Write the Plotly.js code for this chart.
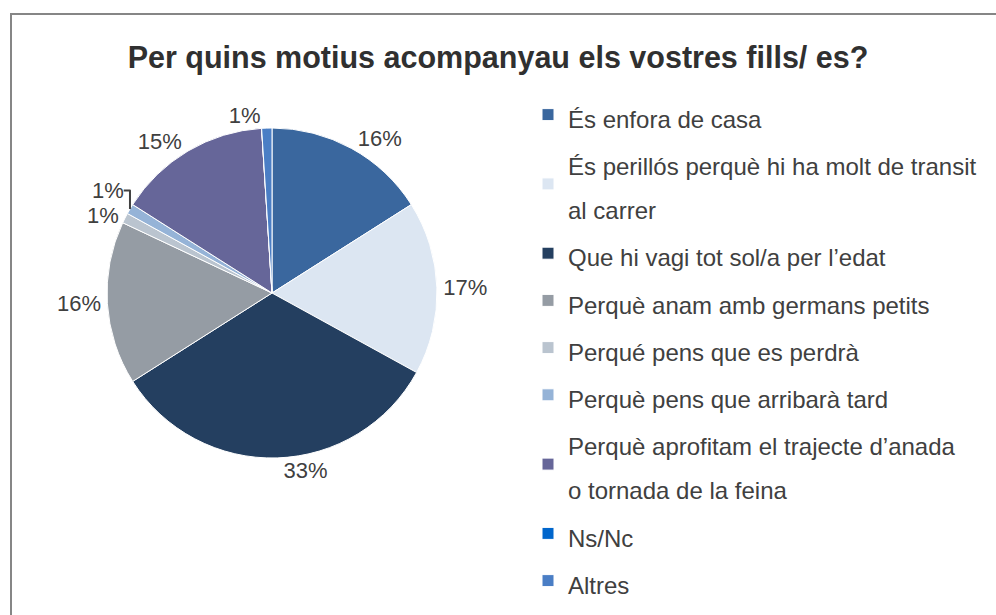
<!DOCTYPE html>
<html>
<head>
<meta charset="utf-8">
<script src="https://cdn.plot.ly/plotly-3.0.1.min.js"></script>
<style>html,body{margin:0;padding:0;background:#fff;}#chart{width:996px;height:615px;}</style>
</head>
<body>
<div id="chart"></div>
<script>
const categories = [
  "És enfora de casa",
  "És perillós perquè hi ha molt de transit<br>al carrer",
  "Que hi vagi tot sol/a per l’edat",
  "Perquè anam amb germans petits",
  "Perqué pens que es perdrà",
  "Perquè pens que arribarà tard",
  "Perquè aprofitam el trajecte d’anada<br>o tornada de la feina",
  "Ns/Nc",
  "Altres"
];
const values = [16, 17, 33, 16, 1, 1, 15, 0, 1];
const colors = ["#3A679E", "#DCE6F2", "#243F60", "#959CA4", "#BAC4CF", "#95B3D7", "#666699", "#0066CC", "#4A7EC5"];
const titleText = "Per quins motius acompanyau els vostres fills/ es?";

const FONT = "'Liberation Sans', Arial, sans-serif";
const legendLabels = categories.map(c => c.split("<br>").map(s => '<span style="font-size:24px">' + s + '</span>').join("<br>"));
const textTemplates = values.map(v => v > 0 ? "%{percent:.0%}" : "");

const trace = {
  type: "pie",
  labels: legendLabels,
  values: values,
  sort: false,
  direction: "clockwise",
  rotation: 0,
  marker: {colors: colors, line: {color: "#ffffff", width: 1}},
  texttemplate: textTemplates,
  textposition: "outside",
  outsidetextfont: {family: FONT, size: 22, color: "#404040"},
  domain: {x: [107/996, 437/996], y: [1 - 458/615, 1 - 128/615]},
  hoverinfo: "label+percent"
};

const layout = {
  width: 996, height: 615,
  margin: {l: 0, r: 0, t: 0, b: 0},
  paper_bgcolor: "#ffffff",
  font: {family: FONT, color: "#404040"},
  title: {
    text: "<b>" + titleText + "</b>",
    font: {family: FONT, size: 30.5, color: "#303030"},
    x: 0.5, xanchor: "center", y: 1 - 57/615, yanchor: "middle"
  },
  showlegend: true,
  legend: {
    x: 528/996, xanchor: "left", y: 1 - 86/615, yanchor: "top",
    font: {family: FONT, size: 34, color: "#404040"},
    bgcolor: "rgba(0,0,0,0)"
  },
  shapes: [{
    type: "rect", xref: "paper", yref: "paper",
    x0: 11/996, x1: 1.05, y0: -0.05, y1: 1 - 14/615,
    line: {color: "#868686", width: 2}, fillcolor: "rgba(0,0,0,0)"
  }]
};

Plotly.newPlot("chart", [trace], layout, {displayModeBar: false, staticPlot: true});
</script>
</body>
</html>
